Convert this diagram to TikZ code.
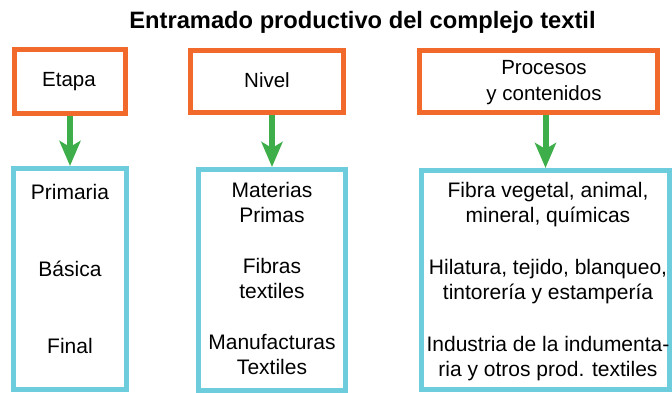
\documentclass[tikz,border=0pt]{standalone}
\usepackage{fontspec}
\setmainfont{Liberation Sans}
\usetikzlibrary{arrows.meta}
\definecolor{hdrorange}{HTML}{F26A2B}
\definecolor{boxcyan}{HTML}{6ECDDC}
\definecolor{arrgreen}{HTML}{3DAE49}
\begin{document}
\begin{tikzpicture}[x=1pt,y=-1pt,
  hdr/.style={draw=hdrorange,line width=5pt,inner sep=0pt,fill=white},
  cbox/.style={draw=boxcyan,line width=5pt,inner sep=0pt},
  hdrtxt/.style={inner sep=0pt,anchor=base,font=\fontsize{20.5}{25}\selectfont},
  itemtxt/.style={inner sep=0pt,anchor=base,font=\fontsize{21}{25}\selectfont},
  arr/.style={draw=arrgreen,line width=6pt,-{Stealth[length=25pt,width=21pt,inset=6pt]}}
]
\useasboundingbox (0,0) rectangle (672,393);
\node[inner sep=0pt,anchor=base,font=\fontsize{23.7}{27}\selectfont\bfseries] (title) at (362.5,29) {Entramado productivo del complejo textil};
% header boxes
\node[hdr,minimum width=111pt,minimum height=64pt] (o1) at (70,81.5) {};
\node[hdr,minimum width=153pt,minimum height=62pt] (o2) at (267,81.5) {};
\node[hdr,minimum width=238pt,minimum height=62pt] (o3) at (538.5,81.5) {};
\node[hdrtxt] (t1) at (69,87) {Etapa};
\node[hdrtxt] (t2) at (267,88) {Nivel};
\node[hdrtxt] (t3a) at (544,75) {Procesos};
\node[hdrtxt] (t3b) at (544,101) {y contenidos};
% content boxes
\node[cbox,minimum width=113pt,minimum height=221pt] (c1) at (70,279) {};
\node[cbox,minimum width=147pt,minimum height=221pt] (c2) at (272,280) {};
\node[cbox,minimum width=248pt,minimum height=219pt] (c3) at (545.5,280) {};
% arrows
\draw[arr] (o1.south -| c1.north) -- (c1.north);
\draw[arr] (o2.south -| c2.north) -- (c2.north);
\draw[arr] (o3.south -| c3.north) -- (c3.north);
% column 1
\node[itemtxt] (p1) at (70,199) {Primaria};
\node[itemtxt] (p2) at (70,276) {Básica};
\node[itemtxt] (p3) at (70,353) {Final};
% column 2
\node[itemtxt] (n1a) at (272,197) {Materias};
\node[itemtxt] (n1b) at (272,222) {Primas};
\node[itemtxt] (n2a) at (272,273) {Fibras};
\node[itemtxt] (n2b) at (272,298) {textiles};
\node[itemtxt] (n3a) at (272,349) {Manufacturas};
\node[itemtxt] (n3b) at (272,374) {Textiles};
% column 3
\node[itemtxt] (q1a) at (548,197) {Fibra vegetal, animal,};
\node[itemtxt] (q1b) at (548,222) {mineral, químicas};
\node[itemtxt] (q2a) at (548,274) {Hilatura, tejido, blanqueo,};
\node[itemtxt] (q2b) at (548,299) {tintorería y estampería};
\node[itemtxt] (q3a) at (548,351) {Industria de la indumenta-};
\node[itemtxt] (q3b) at (548,376) {ria y otros prod. textiles};
\end{tikzpicture}
\end{document}
